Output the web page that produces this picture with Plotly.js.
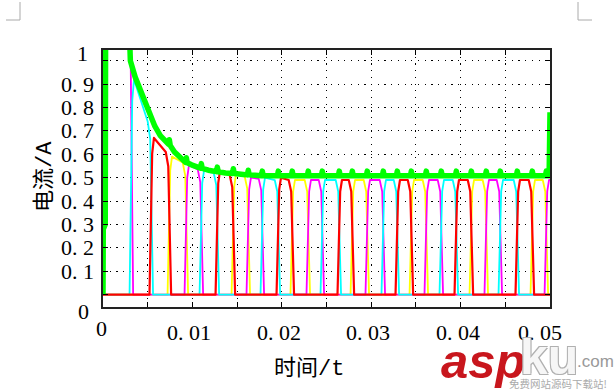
<!DOCTYPE html>
<html>
<head>
<meta charset="utf-8">
<script src="https://cdn.plot.ly/plotly-3.0.1.min.js"></script>
<style>
html,body{margin:0;padding:0;background:#fff;}
#chart{width:616px;height:392px;}
#chart path.js-line{stroke-linejoin:round;}
</style>
</head>
<body>
<div id="chart"></div>
<script>
// ---------- data ----------
// x-axis ticks / labels
const xTickVals = [0, 0.01, 0.02, 0.03, 0.04, 0.05];
const xTickText = ['0', '0. 01', '0. 02', '0. 03', '0. 04', '0. 05'];
// y-axis ticks / labels
const yTickVals = [0, 0.1, 0.2, 0.3, 0.4, 0.5, 0.6, 0.7, 0.8, 0.9, 1];
const yTickText = ['0', '0. 1', '0. 2', '0. 3', '0. 4', '0. 5', '0. 6', '0. 7', '0. 8', '0. 9', '1'];

// phase pulses: switch-on time, switch-off time, level at start of top, level at end of top
const redOn    = [0.00540, 0.01279, 0.01961, 0.02643, 0.03292, 0.03952, 0.04634];
const redOff   = [0.00742, 0.01458, 0.02117, 0.02789, 0.03449, 0.04120, 0.04802];
const redTopA  = [0.67, 0.53, 0.50, 0.49, 0.49, 0.49, 0.49];
const redTopB  = [0.61, 0.51, 0.49, 0.49, 0.49, 0.49, 0.49];

const yellowOn   = [0.00742, 0.01458, 0.02117, 0.02789, 0.03449, 0.04120, 0.04802];
const yellowOff  = [0.00932, 0.01625, 0.02296, 0.02956, 0.03616, 0.04287, 0.04959];
const yellowTopA = [0.59, 0.515, 0.49, 0.49, 0.49, 0.49, 0.49];
const yellowTopB = [0.565, 0.505, 0.49, 0.49, 0.49, 0.49, 0.49];

const magentaOn   = [0.00020, 0.00932, 0.01625, 0.02296, 0.02956, 0.03616, 0.04287, 0.04959];
const magentaOff  = [0.00317, 0.01100, 0.01782, 0.02453, 0.03135, 0.03784, 0.04444, 0.05150];
const magentaTopA = [1.30, 0.555, 0.50, 0.49, 0.49, 0.49, 0.49, 0.49];
const magentaTopB = [1.30, 0.535, 0.495, 0.49, 0.49, 0.49, 0.49, 0.49];

const cyanOn   = [0.00317, 0.01100, 0.01782, 0.02453, 0.03135, 0.03784, 0.04444];
const cyanOff  = [0.00540, 0.01279, 0.01961, 0.02643, 0.03292, 0.03952, 0.04634];
const cyanTopA = [0.92, 0.53, 0.50, 0.49, 0.49, 0.49, 0.49];
const cyanTopB = [0.74, 0.52, 0.49, 0.49, 0.49, 0.49, 0.49];

// green (total current) read point by point
const greenT = [0, 0.00003, 0.00025, 0.00030, 0.00280, 0.00306, 0.00360, 0.00417, 0.00470, 0.00529,
  0.00580, 0.00641, 0.00700, 0.00732, 0.00742, 0.00752, 0.00800, 0.00898, 0.00922, 0.00932, 0.00942,
  0.00990, 0.01090, 0.01100, 0.01110, 0.01180, 0.01269, 0.01279, 0.01289, 0.01370, 0.01448, 0.01458, 0.01468,
  0.01570, 0.01615, 0.01625, 0.01635, 0.01700,
  0.01772, 0.01782, 0.01792, 0.01951, 0.01961, 0.01971, 0.02107, 0.02117, 0.02127, 0.02286, 0.02296, 0.02306,
  0.02443, 0.02453, 0.02463, 0.02633, 0.02643, 0.02653, 0.02779, 0.02789, 0.02799, 0.02946, 0.02956, 0.02966,
  0.03125, 0.03135, 0.03145, 0.03282, 0.03292, 0.03302, 0.03439, 0.03449, 0.03459, 0.03606, 0.03616, 0.03626,
  0.03774, 0.03784, 0.03794, 0.03942, 0.03952, 0.03962, 0.04110, 0.04120, 0.04130, 0.04277, 0.04287, 0.04297,
  0.04434, 0.04444, 0.04454, 0.04624, 0.04634, 0.04644, 0.04792, 0.04802, 0.04812, 0.04949, 0.04959, 0.04969,
  0.04990, 0.05000];
const greenI = [0, 0.28, 0.30, 1.30, 1.30, 1.00, 0.93, 0.875, 0.815, 0.76,
  0.72, 0.68, 0.655, 0.643, 0.662, 0.638, 0.61, 0.575, 0.566, 0.585, 0.564,
  0.555, 0.541, 0.56, 0.540, 0.532, 0.526, 0.545, 0.525, 0.52, 0.518, 0.538, 0.518,
  0.514, 0.512, 0.532, 0.512, 0.51,
  0.508, 0.528, 0.508, 0.508, 0.528, 0.508, 0.508, 0.528, 0.508, 0.508, 0.528, 0.508,
  0.508, 0.528, 0.508, 0.508, 0.528, 0.508, 0.508, 0.528, 0.508, 0.508, 0.528, 0.508,
  0.508, 0.528, 0.508, 0.508, 0.528, 0.508, 0.508, 0.528, 0.508, 0.508, 0.528, 0.508,
  0.508, 0.528, 0.508, 0.508, 0.528, 0.508, 0.508, 0.528, 0.508, 0.508, 0.528, 0.508,
  0.508, 0.528, 0.508, 0.508, 0.528, 0.508, 0.508, 0.528, 0.508, 0.508, 0.528, 0.508,
  0.508, 0.78];

// ---------- building ----------
const X_MAX = 0.05;
const EDGE = 0.0002; // half width of a switching edge

function buildPhase(on, off, topA, topB) {
  const t = [0], v = [0];
  for (let k = 0; k < on.length; k++) {
    t.push(Math.max(0, on[k] - EDGE), on[k] + 0.5 * EDGE, on[k] + 1.5 * EDGE,
           off[k] - 2 * EDGE, off[k] - 0.6 * EDGE, off[k] + EDGE);
    v.push(0, topA[k] * 0.9, topA[k], topB[k], topB[k] * 0.9, 0);
  }
  if (t[t.length - 1] < X_MAX) { t.push(X_MAX); v.push(0); }
  return {t, v};
}

function phaseTrace(p, color, width) {
  return {x: p.t, y: p.v, type: 'scatter', mode: 'lines',
          line: {color: color, width: width}, hoverinfo: 'skip'};
}

const yellow  = buildPhase(yellowOn, yellowOff, yellowTopA, yellowTopB);
const magenta = buildPhase(magentaOn, magentaOff, magentaTopA, magentaTopB);
const cyan    = buildPhase(cyanOn, cyanOff, cyanTopA, cyanTopB);
const red     = buildPhase(redOn, redOff, redTopA, redTopB);

const traces = [
  phaseTrace(yellow, '#ffff00', 1.8),
  phaseTrace(magenta, '#ff00ff', 1.8),
  phaseTrace(cyan, '#00ffff', 1.8),
  phaseTrace(red, '#ff0000', 2.2),
  {x: greenT, y: greenI, type: 'scatter', mode: 'lines',
   line: {color: '#00ff00', width: 5.5}, hoverinfo: 'skip'}
];

// plot area geometry (px)
const L = 103, R = 66, T = 50, B = 85, W = 616 - L - R, H = 392 - T - B;
const px2x = px => (px - L) / W;
const py2y = py => (392 - B - py) / H;

const serif = {family: 'Liberation Serif, Noto Sans CJK SC, serif', size: 22, color: '#000'};
const titleFont = {family: 'Liberation Mono, Noto Sans CJK SC, monospace', size: 22, color: '#000'};
const annotations = [];

xTickVals.forEach((v, k) => {
  const first = k === 0, last = k === xTickVals.length - 1;
  annotations.push({xref: 'x', yref: 'paper', x: v, y: 0, text: xTickText[k], showarrow: false,
    xanchor: 'center', yanchor: 'middle', xshift: first ? -2 : (last ? -10 : -3),
    yshift: first ? -21 : -25, font: serif});
});
yTickVals.forEach((v, k) => {
  let a = {xref: 'paper', yref: 'y', x: 0, y: v, text: yTickText[k], showarrow: false,
    xanchor: 'right', yanchor: 'middle', xshift: -7, yshift: 0, font: serif};
  if (k === 0) { a.xanchor = 'center'; a.xshift = -20; a.yshift = -17; }
  if (k === yTickVals.length - 1) { a.xanchor = 'center'; a.xshift = -21; a.yshift = 7; }
  annotations.push(a);
});

// axis titles
annotations.push({xref: 'paper', yref: 'paper', x: px2x(309), y: py2y(369), text: '时间/t',
  showarrow: false, xanchor: 'center', yanchor: 'middle', font: titleFont});
annotations.push({xref: 'paper', yref: 'paper', x: px2x(45), y: py2y(177), text: '电流/A',
  showarrow: false, textangle: -90, xanchor: 'center', yanchor: 'middle', font: titleFont});

// watermark
annotations.push({xref: 'paper', yref: 'paper', x: px2x(483), y: py2y(361), text: 'asp', showarrow: false,
  xanchor: 'center', yanchor: 'middle',
  font: {family: 'Liberation Sans Narrow, Liberation Sans, Arial, sans-serif', size: 49, color: '#c8161d', weight: 'bold', style: 'italic'}});
annotations.push({xref: 'paper', yref: 'paper', x: px2x(549), y: py2y(357), text: 'ku', showarrow: false,
  xanchor: 'center', yanchor: 'middle',
  font: {family: 'Liberation Sans, Arial, sans-serif', size: 50, color: '#f6f6f6', weight: 'bold',
         shadow: '-1px -1px 0 #b0b0b0, 1px -1px 0 #b0b0b0, -1px 1px 0 #b0b0b0, 1px 1px 0 #b0b0b0'}});
annotations.push({xref: 'paper', yref: 'paper', x: px2x(595), y: py2y(361), text: '.com', showarrow: false,
  xanchor: 'center', yanchor: 'middle',
  font: {family: 'Liberation Sans, Arial, sans-serif', size: 17, color: '#999'}});
annotations.push({xref: 'paper', yref: 'paper', x: px2x(558), y: py2y(383), text: '免费网站源码下载站!', showarrow: false,
  xanchor: 'center', yanchor: 'middle',
  font: {family: 'Noto Sans CJK SC, sans-serif', size: 10.5, color: '#aaa'}});

// page corner marks
const shapes = [
  {type: 'line', xref: 'paper', yref: 'paper', x0: px2x(20), x1: px2x(20), y0: py2y(2), y1: py2y(20), line: {color: '#aaa', width: 1}},
  {type: 'line', xref: 'paper', yref: 'paper', x0: px2x(6), x1: px2x(20), y0: py2y(20), y1: py2y(20), line: {color: '#aaa', width: 1}},
  {type: 'line', xref: 'paper', yref: 'paper', x0: px2x(578), x1: px2x(578), y0: py2y(2), y1: py2y(20), line: {color: '#aaa', width: 1}},
  {type: 'line', xref: 'paper', yref: 'paper', x0: px2x(578), x1: px2x(592), y0: py2y(20), y1: py2y(20), line: {color: '#aaa', width: 1}}
];

const axisCommon = {
  showline: true, mirror: 'ticks', linecolor: '#222', linewidth: 2,
  ticks: 'inside', ticklen: 5, tickwidth: 1, tickcolor: '#000',
  showgrid: true, gridcolor: '#000', gridwidth: 1, griddash: '1.2px,5.5px',
  zeroline: false, showticklabels: false, fixedrange: true
};

const layout = {
  width: 616, height: 392,
  margin: {l: L, r: R, t: T, b: B, pad: 0},
  paper_bgcolor: '#fff', plot_bgcolor: '#fff',
  showlegend: false, hovermode: false,
  xaxis: Object.assign({}, axisCommon, {range: [0, X_MAX], tick0: 0, dtick: 0.005}),
  yaxis: Object.assign({}, axisCommon, {range: [-0.053, 1.046], tick0: 0, dtick: 0.1}),
  annotations: annotations,
  shapes: shapes
};

Plotly.newPlot('chart', traces, layout, {staticPlot: true, displayModeBar: false});
</script>
</body>
</html>
